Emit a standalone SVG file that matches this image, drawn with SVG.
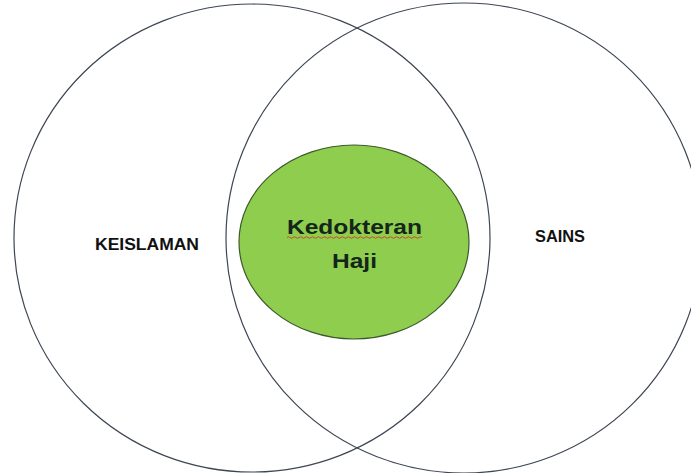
<svg xmlns="http://www.w3.org/2000/svg" width="691" height="473" viewBox="0 0 691 473">
<style>
.ring{fill:none;stroke:#3d4654;stroke-width:1.2}
.lbl{font-family:"Liberation Sans",Arial,sans-serif;font-weight:bold;fill:#111;text-anchor:middle}
.inner{font-family:"Liberation Sans",Arial,sans-serif;font-weight:bold;fill:#14261a;text-anchor:middle;font-size:21px}
</style>
<rect width="691" height="473" fill="#ffffff"/>
<g id="keislaman">
<ellipse class="ring" cx="252" cy="238" rx="238" ry="234"/>
<text class="lbl" x="147" y="250" font-size="17" textLength="104" lengthAdjust="spacingAndGlyphs">KEISLAMAN</text>
</g>
<g id="sains">
<ellipse class="ring" cx="464" cy="238" rx="238" ry="235"/>
<text class="lbl" x="560" y="242" font-size="17" textLength="50" lengthAdjust="spacingAndGlyphs">SAINS</text>
</g>
<g id="kedokteran-haji">
<ellipse cx="354" cy="242" rx="115" ry="97" fill="#8fcd4e" stroke="#3c5a2c" stroke-width="1.2"/>
<text class="inner" x="354.5" y="234" textLength="135" lengthAdjust="spacingAndGlyphs">Kedokteran</text>
<path d="M287 237.5 q1.5 -1.5 3 0 t3 0 t3 0 t3 0 t3 0 t3 0 t3 0 t3 0 t3 0 t3 0 t3 0 t3 0 t3 0 t3 0 t3 0 t3 0 t3 0 t3 0 t3 0 t3 0 t3 0 t3 0 t3 0 t3 0 t3 0 t3 0 t3 0 t3 0 t3 0 t3 0 t3 0 t3 0 t3 0 t3 0 t3 0 t3 0 t3 0 t3 0 t3 0 t3 0 t3 0 t3 0 t3 0 t3 0 t3 0" fill="none" stroke="#d23a2a" stroke-width="0.9"/>
<text class="inner" x="354.5" y="268" textLength="45" lengthAdjust="spacingAndGlyphs">Haji</text>
</g>
<g id="connectors"/>
</svg>
